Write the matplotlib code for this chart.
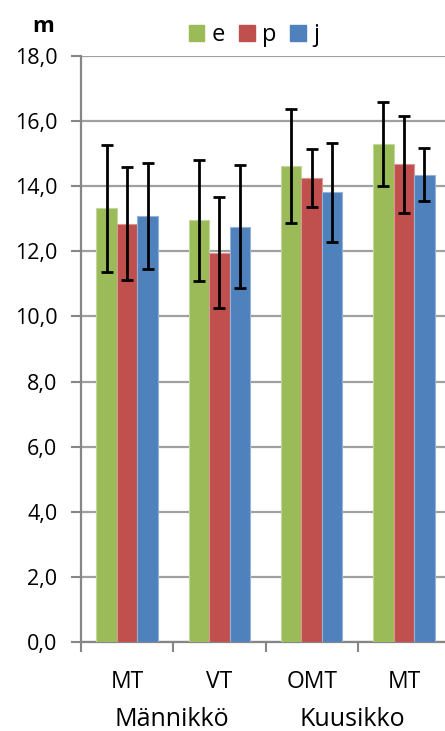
import numpy as np
import matplotlib.pyplot as plt
from matplotlib.patches import Patch

categories = ["MT", "VT", "OMT", "MT"]
groups = ["Männikkö", "Kuusikko"]
series = ["e", "p", "j"]

e_vals = [13.32, 12.95, 14.62, 15.30]
p_vals = [12.85, 11.96, 14.25, 14.67]
j_vals = [13.09, 12.76, 13.81, 14.35]

e_err = [1.96, 1.85, 1.75, 1.30]
p_err = [1.73, 1.70, 0.90, 1.49]
j_err = [1.63, 1.89, 1.52, 0.81]

yticks = [0, 2, 4, 6, 8, 10, 12, 14, 16, 18]

colors = ["#9BBB59", "#C0504D", "#4F81BD"]
edges = ["#C3D69B", "#D99694", "#95B3D7"]

plt.rcParams['font.family'] = ['Open Sans', 'DejaVu Sans']

fig = plt.figure(figsize=(4.45, 7.31), dpi=100)
ax = fig.add_axes([81 / 445, 89 / 731, 369 / 445, 586 / 731])

x = np.arange(len(categories))
w = 0.222
grey = "#868686"

for i, (vals, errs) in enumerate(zip([e_vals, p_vals, j_vals], [e_err, p_err, j_err])):
    ax.bar(x + (i - 1) * w, vals, w, color=colors[i], edgecolor=edges[i], linewidth=0.8,
           yerr=errs, error_kw=dict(ecolor="black", elinewidth=2, capsize=4.5, capthick=2),
           zorder=3)

ax.set_ylim(0, 18)
ax.set_xlim(-0.5, 3.5)
ax.set_yticks(yticks)
ax.set_yticklabels([f"{v:.1f}".replace(".", ",") for v in yticks], fontsize=15.5)
ax.yaxis.grid(True, color="#A0A0A0", linewidth=1.6, zorder=0)

ax.set_xticks([-0.5, 0.5, 1.5, 2.5])
ax.set_xticklabels([])
ax.set_xticks(x, minor=True)
ax.set_xticklabels(categories, minor=True, fontsize=16.5)
ax.tick_params(axis="x", which="minor", length=0, pad=20)
ax.tick_params(axis="x", which="major", length=7, width=1.5, color=grey)
ax.tick_params(axis="y", length=7, width=1.5, color=grey, pad=10)

for s in ["top", "right"]:
    ax.spines[s].set_visible(False)
for s in ["left", "bottom"]:
    ax.spines[s].set_color(grey)
    ax.spines[s].set_linewidth(1.6)

for gx, name in zip([0.48, 2.44], groups):
    ax.annotate(name, xy=(gx, 0), xycoords=("data", "axes fraction"),
                xytext=(0, -78), textcoords="offset pixels",
                ha="center", va="center", fontsize=18)

fig.text(43 / 445, 1 - 26 / 731, "m", fontsize=16, fontweight="bold", ha="center", va="center")

handles = [Patch(facecolor=c, edgecolor=c) for c in colors]
fig.legend(handles, series, loc="center", bbox_to_anchor=(254 / 445, 1 - 35 / 731),
           ncol=3, frameon=False, fontsize=17, handlelength=0.66, handleheight=0.66,
           handletextpad=0.3, columnspacing=0.6, borderpad=0)

fig.savefig("out.png", dpi=100)
